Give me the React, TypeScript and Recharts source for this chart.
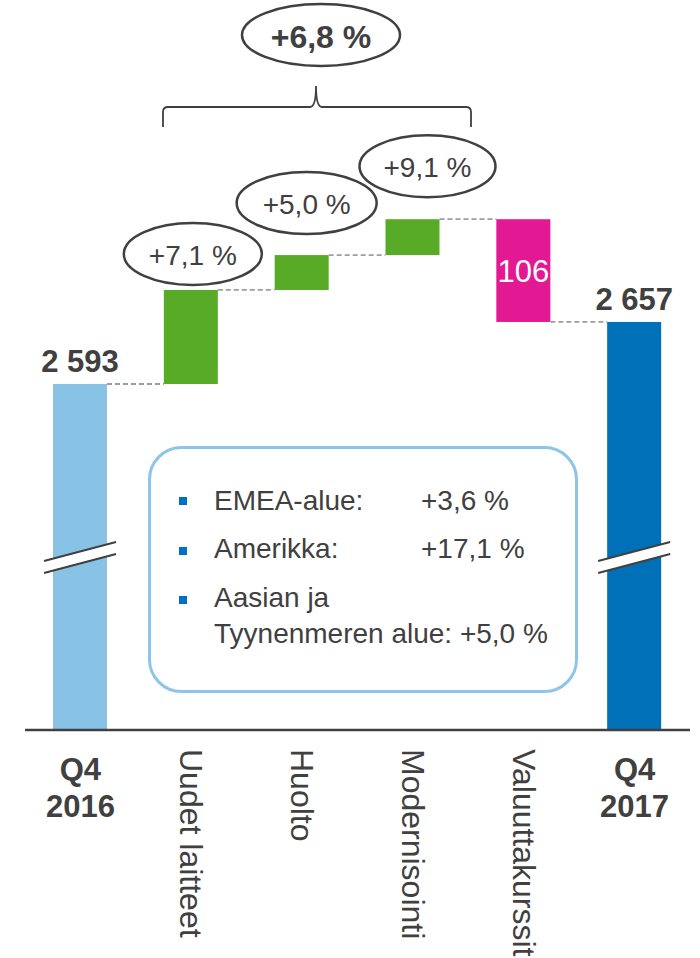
import React from "react";
import { ComposedChart, Bar, XAxis, YAxis, LabelList } from "recharts";

// ---------- data ----------
const categories = ["Q4 2016", "Uudet laitteet", "Huolto", "Modernisointi", "Valuuttakurssit", "Q4 2017"];
const startValue = 2593;
const endValue = 2657;
const changes = [97, 36, 37, -106];
const changePctLabels = ["+7,1 %", "+5,0 %", "+9,1 %"];
const totalGrowthLabel = "+6,8 %";
const legendRegions = ["EMEA-alue:", "Amerikka:", "Aasian ja", "Tyynenmeren alue:"];
const legendValues = ["+3,6 %", "+17,1 %", "+5,0 %"];
const AXIS_MIN = 2236;
const AXIS_MAX = 2886;
const BREAK_VALUE = 2414;

// ---------- styles ----------
const FONT = "'Liberation Sans', Arial, Helvetica, sans-serif";
const TEXT = "#404040";
const CHART_W = 700;
const CHART_H = 958;
const MARGIN = { top: 100, right: 10, left: 25, bottom: 0 };
const X_AXIS_H = 228;
const BAR_SIZE = 54;
const BAND = (CHART_W - MARGIN.left - MARGIN.right) / categories.length;
const COLORS: Record<string, string> = {
  start: "#88C3E6",
  increase: "#58AB27",
  decrease: "#E31893",
  end: "#0070B9",
};
// ellipse annotation placement relative to bar (center x, top y)
const ANNOT = [
  null,
  { dx: 2, dy: -36, rx: 69, ry: 31 },
  { dx: 5, dy: -52, rx: 70, ry: 31 },
  { dx: 15, dy: -53, rx: 68, ry: 31 },
  null,
  null,
];

const fmt = (v: number) => String(v).replace(/\B(?=(\d{3})+(?!\d))/g, " ");

// ---------- build rows ----------
type Row = { name: string; range: [number, number]; kind: string; label: string };
const rows: Row[] = [];
rows.push({ name: categories[0], range: [AXIS_MIN, startValue], kind: "start", label: fmt(startValue) });
let running = startValue;
changes.forEach((c, i) => {
  const lo = Math.min(running, running + c);
  const hi = Math.max(running, running + c);
  rows.push({
    name: categories[i + 1],
    range: [lo, hi],
    kind: c >= 0 ? "increase" : "decrease",
    label: c >= 0 ? changePctLabels[i] : String(Math.abs(c)),
  });
  running += c;
});
rows.push({ name: categories[5], range: [AXIS_MIN, endValue], kind: "end", label: fmt(endValue) });

// ---------- shapes ----------
function WaterfallShape(props: any) {
  const { x, y, width, height, index, payload } = props;
  const kind = payload.kind;
  const fill = COLORS[kind];
  const els: React.ReactNode[] = [];
  els.push(<rect key="r" x={x} y={y} width={width} height={height} fill={fill} />);
  if (index < rows.length - 1) {
    const lvl = kind === "decrease" ? y + height : y;
    const gap = BAND - width;
    els.push(
      <line key="c" x1={x + width} x2={x + width + gap} y1={lvl} y2={lvl}
        stroke="#9E9E9E" strokeWidth={1.8} strokeDasharray="5 3" />
    );
  }
  if (kind === "start" || kind === "end") {
    const [lo, hi] = payload.range;
    const c = y + (height * (hi - BREAK_VALUE)) / (hi - lo);
    const cx = x + width / 2;
    const hx = width / 2 + 9;
    const s = 9.5;
    const g = 6;
    els.push(
      <polygon key="p"
        points={`${cx - hx},${c - g + s} ${cx + hx},${c - g - s} ${cx + hx},${c + g - s} ${cx - hx},${c + g + s}`}
        fill="#ffffff" />
    );
    els.push(<line key="l1" x1={cx - hx} y1={c - g + s} x2={cx + hx} y2={c - g - s} stroke={TEXT} strokeWidth={2} />);
    els.push(<line key="l2" x1={cx - hx} y1={c + g + s} x2={cx + hx} y2={c + g - s} stroke={TEXT} strokeWidth={2} />);
  }
  return <g>{els}</g>;
}

function renderLabel(props: any) {
  const { x, y, width, height, value, index } = props;
  const row = rows[index];
  if (!row) return null;
  const cx = x + width / 2;
  if (row.kind === "start" || row.kind === "end") {
    return (
      <text x={cx} y={y - 12} textAnchor="middle" fontFamily={FONT} fontSize={31} fontWeight="bold" fill={TEXT}>
        {value}
      </text>
    );
  }
  if (row.kind === "decrease") {
    return (
      <text x={cx} y={y + height / 2 + 11} textAnchor="middle" fontFamily={FONT} fontSize={31} fill="#ffffff">
        {value}
      </text>
    );
  }
  const a = ANNOT[index];
  if (!a) return null;
  const ex = cx + a.dx;
  const ey = y + a.dy;
  return (
    <g>
      <ellipse cx={ex} cy={ey} rx={a.rx} ry={a.ry} fill="#ffffff" stroke={TEXT} strokeWidth={2.5} />
      <text x={ex} y={ey + 11} textAnchor="middle" fontFamily={FONT} fontSize={28} fill={TEXT}>
        {value}
      </text>
    </g>
  );
}

function CategoryTick(props: any) {
  const { x, y, payload } = props;
  const v: string = payload.value;
  if (v.startsWith("Q4")) {
    const [a, b] = v.split(" ");
    return (
      <g>
        <text x={x} y={y + 50} textAnchor="middle" fontFamily={FONT} fontSize={31} fontWeight="bold" fill={TEXT}>{a}</text>
        <text x={x} y={y + 87} textAnchor="middle" fontFamily={FONT} fontSize={31} fontWeight="bold" fill={TEXT}>{b}</text>
      </g>
    );
  }
  return (
    <text transform={`translate(${x},${y + 19}) rotate(90)`} x={0} y={0} dy="0.35em" textAnchor="start"
      fontFamily={FONT} fontSize={32} fill={TEXT}>
      {v}
    </text>
  );
}

function Overlay() {
  const bulletYs = [497, 547, 596];
  const baselines = [510, 558, 607, 643];
  return (
    <svg width={CHART_W} height={CHART_H} style={{ position: "absolute", left: 0, top: 0, pointerEvents: "none" }}>
      {/* total growth */}
      <ellipse cx={321} cy={35} rx={79} ry={31} fill="#ffffff" stroke={TEXT} strokeWidth={2.5} />
      <text x={321} y={48} textAnchor="middle" fontFamily={FONT} fontSize={32} fontWeight="bold" fill={TEXT}>
        {totalGrowthLabel}
      </text>
      <path d="M163,127 L163,112 Q163,107 168,107 L310,107 Q316,107 316,86 Q316,107 322,107 L466,107 Q471,107 471,112 L471,127"
        fill="none" stroke={TEXT} strokeWidth={1.8} />
      {/* legend box */}
      <rect x={149.5} y={447.5} width={427} height={244} rx={32} ry={32} fill="#ffffff" stroke="#8DC5E9" strokeWidth={3} />
      {bulletYs.map((by, i) => (
        <rect key={i} x={179} y={by} width={8} height={8} fill="#0070C0" />
      ))}
      {legendRegions.map((r, i) => (
        <text key={i} x={214} y={baselines[i]} fontFamily={FONT} fontSize={28} fill={TEXT}>
          {r}
          {i === 3 ? " " + legendValues[2] : null}
        </text>
      ))}
      <text x={421} y={baselines[0]} fontFamily={FONT} fontSize={28} fill={TEXT}>{legendValues[0]}</text>
      <text x={421} y={baselines[1]} fontFamily={FONT} fontSize={28} fill={TEXT}>{legendValues[1]}</text>
    </svg>
  );
}

export default function App() {
  return (
    <div style={{ position: "absolute", left: 0, top: 0, width: CHART_W, height: CHART_H, background: "#fff" }}>
      <ComposedChart width={CHART_W} height={CHART_H} data={rows} margin={MARGIN} barCategoryGap={0}>
        <YAxis hide type="number" domain={[AXIS_MIN, AXIS_MAX]} allowDataOverflow />
        <XAxis dataKey="name" type="category" interval={0} height={X_AXIS_H} tickLine={false} tickSize={0}
          tickMargin={0} axisLine={{ stroke: TEXT, strokeWidth: 2.5 }} tick={<CategoryTick />} />
        <Bar dataKey="range" isAnimationActive={false} barSize={BAR_SIZE} shape={<WaterfallShape />}>
          <LabelList dataKey="label" content={renderLabel} />
        </Bar>
      </ComposedChart>
      <Overlay />
    </div>
  );
}
